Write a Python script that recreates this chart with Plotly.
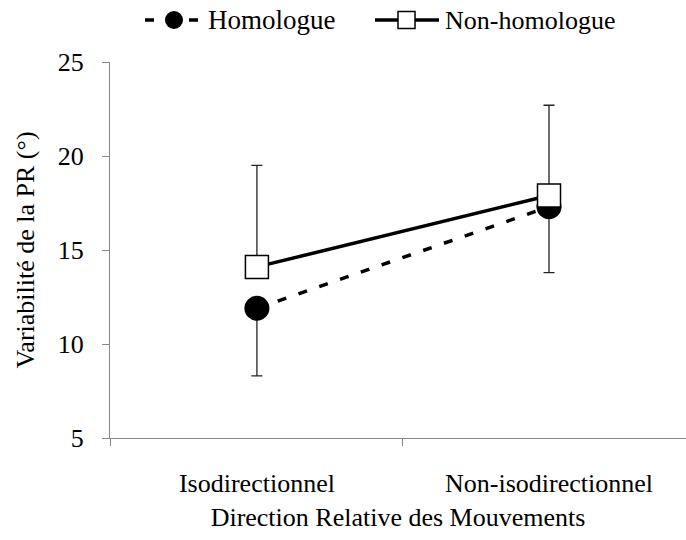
import plotly.graph_objects as go

# Category labels and group means / error magnitudes
categories = ["Isodirectionnel", "Non-isodirectionnel"]
homologue_mean = [11.9, 17.3]
homologue_err_minus = [3.6, 3.5]
non_homologue_mean = [14.1, 17.9]
non_homologue_err_plus = [5.4, 4.8]
series_names = ["Homologue", "Non-homologue"]

SERIF = "Liberation Serif, Times New Roman, serif"
AXIS_GREY = "#868686"
FS = 26

W, H = 686, 540
M_L, M_R, M_T, M_B = 110, 0, 62, 102
PLOT_W = W - M_L - M_R
PLOT_H = H - M_T - M_B


def px_x(px):
    """Pixel column -> paper x."""
    return (px - M_L) / PLOT_W


def px_y(py):
    """Pixel row (from top) -> paper y."""
    return (H - M_B - py) / PLOT_H


DASH = "9px,13px"

fig = go.Figure()

fig.add_trace(go.Scatter(
    x=categories, y=homologue_mean, name=series_names[0],
    mode="lines+markers",
    line=dict(color="black", width=3.5, dash=DASH),
    marker=dict(symbol="circle", size=25, color="black"),
    error_y=dict(type="data", symmetric=False,
                 array=[0] * len(homologue_mean),
                 arrayminus=homologue_err_minus,
                 color="#222222", thickness=1.3, width=5.5),
    showlegend=False,
))

fig.add_trace(go.Scatter(
    x=categories, y=non_homologue_mean, name=series_names[1],
    mode="lines+markers",
    line=dict(color="black", width=3.5),
    marker=dict(symbol="square", size=23, color="white",
                line=dict(color="black", width=1.5)),
    error_y=dict(type="data", symmetric=False,
                 array=non_homologue_err_plus,
                 arrayminus=[0] * len(non_homologue_mean),
                 color="#222222", thickness=1.3, width=5.5),
    showlegend=False,
))

# Legend above the plot: line samples with markers, then the series names
leg_y = px_y(20)
shapes = [
    dict(type="line", xref="paper", yref="paper",
         x0=px_x(145), x1=px_x(199), y0=leg_y, y1=leg_y,
         line=dict(color="black", width=3.5, dash=DASH)),
    dict(type="circle", xref="paper", yref="paper",
         xsizemode="pixel", ysizemode="pixel",
         xanchor=px_x(174), yanchor=leg_y,
         x0=-9, x1=9, y0=-9, y1=9,
         fillcolor="black", line=dict(color="black", width=0)),
    dict(type="line", xref="paper", yref="paper",
         x0=px_x(375), x1=px_x(439), y0=leg_y, y1=leg_y,
         line=dict(color="black", width=3.5)),
    dict(type="rect", xref="paper", yref="paper",
         xsizemode="pixel", ysizemode="pixel",
         xanchor=px_x(406.5), yanchor=leg_y,
         x0=-8.5, x1=8.5, y0=-8.5, y1=8.5,
         fillcolor="white", line=dict(color="black", width=1.5)),
]
annotations = [
    dict(text=series_names[0], xref="paper", yref="paper",
         x=px_x(206), y=leg_y, xanchor="left", yanchor="middle",
         showarrow=False, font=dict(family=SERIF, size=27, color="black")),
    dict(text=series_names[1], xref="paper", yref="paper",
         x=px_x(443), y=leg_y, xanchor="left", yanchor="middle",
         showarrow=False, font=dict(family=SERIF, size=FS, color="black")),
]

fig.update_layout(
    width=W, height=H,
    margin=dict(l=M_L, r=M_R, t=M_T, b=M_B),
    paper_bgcolor="white", plot_bgcolor="white",
    font=dict(family=SERIF, size=FS, color="black"),
    showlegend=False,
    shapes=shapes,
    annotations=annotations,
)

fig.update_xaxes(
    type="category", categoryorder="array", categoryarray=categories,
    range=[-0.503, 1.469],
    tickson="boundaries", ticks="outside", ticklen=7, tickcolor=AXIS_GREY,
    showline=True, linecolor=AXIS_GREY, linewidth=1,
    showgrid=False, zeroline=False,
    tickfont=dict(family=SERIF, size=FS, color="black"),
    ticklabelstandoff=22,
    title=dict(text="Direction Relative des Mouvements",
               font=dict(family=SERIF, size=FS, color="black"), standoff=10),
)

fig.update_yaxes(
    range=[5, 25], tickvals=[5, 10, 15, 20, 25],
    ticks="outside", ticklen=7, tickcolor=AXIS_GREY,
    showline=True, linecolor=AXIS_GREY, linewidth=1,
    showgrid=False, zeroline=False,
    tickfont=dict(family=SERIF, size=FS, color="black"),
    ticklabelstandoff=13,
    title=dict(text="Variabilité de la PR (°)",
               font=dict(family=SERIF, size=FS, color="black"), standoff=15),
)

fig.write_html("out.html")
